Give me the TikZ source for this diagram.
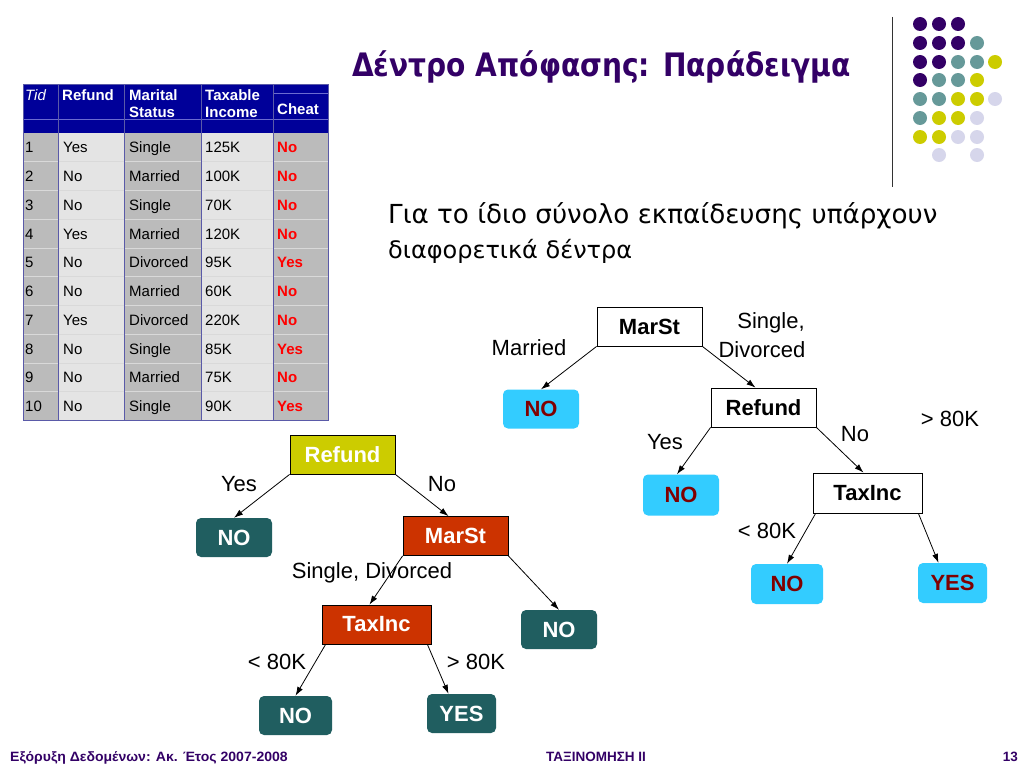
\documentclass[tikz,border=0pt]{standalone}
\usepackage{fontspec}
\setmainfont{Liberation Sans}
\newfontfamily\dejavu{DejaVu Sans}
\usetikzlibrary{arrows.meta,calc}
\definecolor{ttl}{HTML}{330066}
\definecolor{dpurp}{HTML}{330066}
\definecolor{dteal}{HTML}{669999}
\definecolor{dyel}{HTML}{CCCC00}
\definecolor{dlav}{HTML}{D6D6EB}
\definecolor{hdr}{HTML}{000099}
\definecolor{hdrline}{HTML}{6B6BD0}
\definecolor{colgray}{HTML}{BBBBBB}
\definecolor{collight}{HTML}{E4E4E4}
\definecolor{sepline}{HTML}{5A5AA8}
\definecolor{leafteal}{HTML}{205E60}
\definecolor{boxyel}{HTML}{CCCC00}
\definecolor{boxred}{HTML}{CC3300}
\definecolor{leafblue}{HTML}{33CCFF}
\definecolor{leaftext}{HTML}{800000}
\definecolor{cheatred}{HTML}{FF0000}
\begin{document}
\begin{tikzpicture}[x=1pt,y=-1pt,
  tcell/.style={inner sep=0pt, anchor=base west, font=\fontsize{15}{17}\selectfont},
  thead/.style={inner sep=0pt, anchor=base west, text=white, font=\fontsize{15}{17}\selectfont\bfseries},
  treebox/.style={draw=black, line width=0.8pt, inner sep=0pt, minimum height=39, font=\fontsize{22}{24}\selectfont\bfseries},
  ybox/.style={treebox, fill=boxyel, text=white, minimum width=105},
  rbox/.style={treebox, fill=boxred, text=white},
  wbox/.style={treebox, fill=white, text=black},
  tleaf/.style={rounded corners=5pt, inner sep=0pt, minimum width=76, minimum height=39, fill=leafteal, text=white, font=\fontsize{22}{24}\selectfont\bfseries},
  bleaf/.style={rounded corners=5pt, inner sep=0pt, minimum width=76, minimum height=39, fill=leafblue, text=leaftext, font=\fontsize{22}{24}\selectfont\bfseries},
  elabel/.style={inner sep=0pt, font=\fontsize{22}{24}\selectfont},
  conn/.style={-{Latex[length=9pt,width=6pt]}, line width=0.8pt},
  foot/.style={inner sep=0pt, text=ttl, font=\fontsize{13.5}{15}\selectfont\bfseries},
  dot/.style={radius=7}
]
\useasboundingbox (0,0) rectangle (1024,768);
\fill[white] (0,0) rectangle (1024,768);

% title
\node[anchor=base west, inner sep=0pt, text=ttl] (title) at (352,77)
  {\scalebox{1}[1.15]{\resizebox{498pt}{!}{\dejavu\bfseries Δέντρο Απόφασης: Παράδειγμα}}};

% decoration: vertical line and dots
\draw[line width=1pt, black!80] (892,17) coordinate (vl1) -- (892,187) coordinate (vl2);
\foreach \x/\y in {920/24,939/24,958/24, 920/43,939/43,958/43, 920/62,939/62, 920/80}
  \fill[dpurp] (\x,\y) circle[dot];
\foreach \x/\y in {977/43, 958/62,977/62, 939/80,958/80, 920/99,939/99, 920/118}
  \fill[dteal] (\x,\y) circle[dot];
\foreach \x/\y in {995/62, 977/80, 958/99,977/99, 939/118,958/118, 920/137,939/137}
  \fill[dyel] (\x,\y) circle[dot];
\foreach \x/\y in {995/99, 977/118, 958/137,977/137, 939/155,977/155}
  \fill[dlav] (\x,\y) circle[dot];

% subtitle
\node[anchor=base west, inner sep=0pt] (sub1) at (388,223)
  {\resizebox{549pt}{!}{\dejavu Για το ίδιο σύνολο εκπαίδευσης υπάρχουν}};
\node[anchor=base west, inner sep=0pt] (sub2) at (388,258)
  {\resizebox{244pt}{!}{\dejavu διαφορετικά δέντρα}};

% ---------- table ----------
\fill[colgray] (23,133) rectangle (58,420.5);
\fill[collight] (58,133) rectangle (124,420.5);
\fill[colgray] (124,133) rectangle (201,420.5);
\fill[collight] (201,133) rectangle (273,420.5);
\fill[colgray] (273,133) rectangle (328,420.5);
\fill[hdr] (23,84) rectangle (328,133);
\foreach \i in {1,...,9}
  \draw[white!70!gray, line width=0.6pt] (23,{133+\i*28.75}) -- (328,{133+\i*28.75});
\draw[hdrline, line width=0.7pt] (23,119) -- (328,119);
\draw[hdrline, line width=0.7pt] (273,93) -- (328,93);
\foreach \x in {58,124,201,273}
  \draw[sepline, line width=0.8pt] (\x,84) -- (\x,420.5);
\draw[sepline, line width=0.8pt] (23,84) rectangle (328,420.5);

\node[thead, font=\fontsize{15}{17}\selectfont\itshape] (hTid) at (25,100) {Tid};
\node[thead] (hRef) at (62,100) {Refund};
\node[thead] (hMar1) at (129,100) {Marital};
\node[thead] (hMar2) at (129,117) {Status};
\node[thead] (hTax1) at (205,100) {Taxable};
\node[thead] (hTax2) at (205,117) {Income};
\node[thead] (hCh) at (277,114) {Cheat};

\foreach \i/\r/\m/\t/\c in {1/Yes/Single/125K/No, 2/No/Married/100K/No, 3/No/Single/70K/No,
  4/Yes/Married/120K/No, 5/No/Divorced/95K/Yes, 6/No/Married/60K/No, 7/Yes/Divorced/220K/No,
  8/No/Single/85K/Yes, 9/No/Married/75K/No, 10/No/Single/90K/Yes} {
  \pgfmathsetmacro{\yb}{133+(\i-0.5)*28.75+5.4}
  \node[tcell] (tid\i) at (25,\yb) {\i};
  \node[tcell] (ref\i) at (63,\yb) {\r};
  \node[tcell] (mar\i) at (129,\yb) {\m};
  \node[tcell] (tax\i) at (205,\yb) {\t};
  \node[tcell, text=cheatred, font=\fontsize{15}{17}\selectfont\bfseries] (ch\i) at (277,\yb) {\c};
}

% ---------- left tree ----------
\node[ybox] (r1) at (342.5,454.5) {Refund};
\node[tleaf] (n1) at (234,537.5) {NO};
\node[rbox, minimum width=105] (m1) at (455.5,536) {MarSt};
\node[rbox, minimum width=109] (t1) at (376.5,624.5) {TaxInc};
\node[tleaf] (n2) at (559,629.5) {NO};
\node[tleaf, minimum width=73] (n3) at (295.5,715.5) {NO};
\node[tleaf, minimum width=69] (y1) at (461.5,713.5) {YES};

\draw[conn] (r1.south west) -- (n1.north);
\draw[conn] (r1.south east) -- ($(m1.north)+(-7,0)$);
\draw[conn] (m1.south west) -- ($(t1.north)+(-7,0)$);
\draw[conn] (m1.south east) -- (n2.north);
\draw[conn] ($(t1.south west)+(4,0)$) -- (n3.north);
\draw[conn] ($(t1.south east)+(-4,0)$) -- ($(y1.north)+(-13,0)$);

\node[elabel] (lYes) at (239,484) {Yes};
\node[elabel] (lNo) at (442,484) {No};
\node[elabel] (lSD) at (372,573) {Single, Divorced};
\node[elabel] (lLt) at (277,662) {< 80K};
\node[elabel] (lGt) at (476,662) {> 80K};

% ---------- right tree ----------
\node[wbox, minimum width=105] (m2) at (649.5,326.5) {MarSt};
\node[bleaf] (n4) at (541,409) {NO};
\node[wbox, minimum width=105] (r2) at (763.5,407.5) {Refund};
\node[bleaf, minimum height=41] (n5) at (681,495) {NO};
\node[wbox, minimum width=109, minimum height=40] (t2) at (867.5,493) {TaxInc};
\node[bleaf, minimum width=72, minimum height=40] (n6) at (787,584) {NO};
\node[bleaf, minimum width=69, minimum height=40] (y2) at (952.5,583) {YES};

\draw[conn] (m2.south west) -- (n4.north);
\draw[conn] (m2.south east) -- ($(r2.north)+(-8,0)$);
\draw[conn] (r2.south west) -- ($(n5.north)+(-4,0)$);
\draw[conn] (r2.south east) -- ($(t2.north)+(-4,0)$);
\draw[conn] ($(t2.south west)+(3,0)$) -- (n6.north);
\draw[conn] ($(t2.south east)+(-4,0)$) -- ($(y2.north)+(-14,0)$);

\node[elabel] (rMar) at (529,348) {Married};
\node[elabel] (rS) at (771,323) {Single,};
\node[elabel] (rD) at (762,350) {Divorced};
\node[elabel] (rGt) at (950,419) {> 80K};
\node[elabel] (rYes) at (665,442) {Yes};
\node[elabel] (rNo) at (855,434) {No};
\node[elabel] (rLt) at (767,531) {< 80K};

% ---------- footer ----------
\node[foot, anchor=base west] (f1) at (10,761)
  {\scalebox{1.04}[1]{Εξόρυξη Δεδομένων: Ακ. Έτος 2007-2008}};
\node[foot, anchor=base] (f2) at (596,761) {ΤΑΞΙΝΟΜΗΣΗ ΙΙ};
\node[foot, anchor=base east] (f3) at (1018,761) {13};
\end{tikzpicture}
\end{document}
